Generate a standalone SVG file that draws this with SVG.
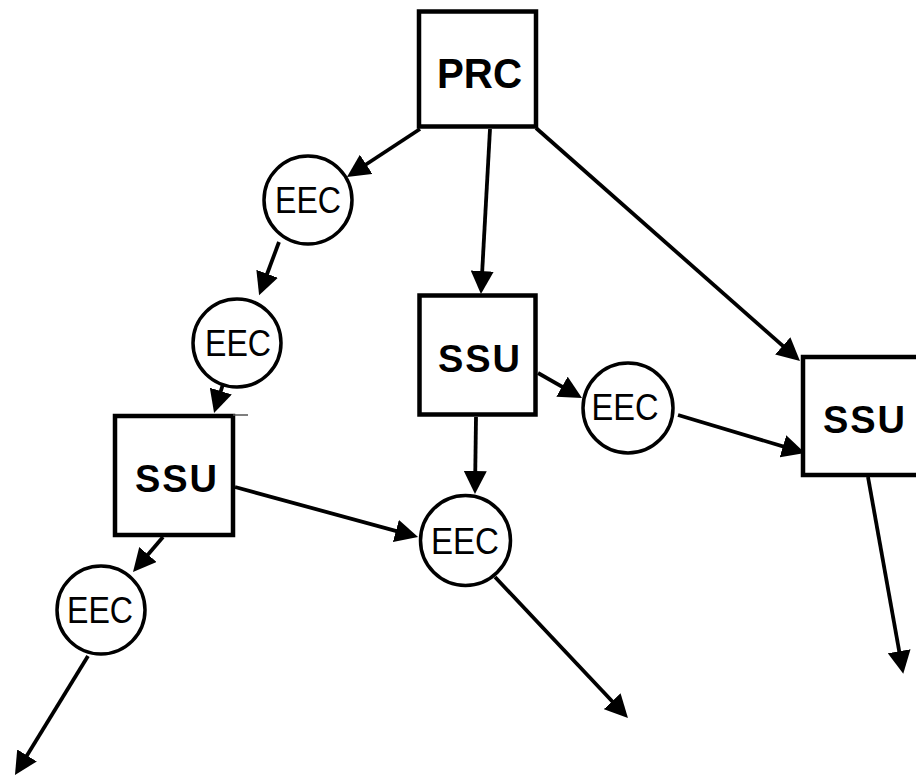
<svg xmlns="http://www.w3.org/2000/svg" width="916" height="776" viewBox="0 0 916 776">
  <style>
    .box { fill: #ffffff; stroke: #000000; stroke-width: 4.5; }
    .ring { fill: #ffffff; stroke: #000000; stroke-width: 3.5; }
    .lbl-b { font-family: "Liberation Sans", Arial, sans-serif; font-weight: bold; font-size: 38px; letter-spacing: 2px; fill: #000000; text-anchor: middle; }
    .lbl { font-family: "Liberation Sans", Arial, sans-serif; font-size: 36px; fill: #000000; text-anchor: middle; }
    .edge { fill: none; stroke: #000000; stroke-width: 3.8; stroke-linecap: butt; marker-end: url(#head); }
  </style>
  <defs>
    <marker id="head" markerUnits="userSpaceOnUse" viewBox="0 0 23 23" refX="13" refY="11.5" markerWidth="23" markerHeight="23" orient="auto">
      <path d="M0,0 L23,11.5 L0,23 z" fill="#000000"/>
    </marker>
  </defs>
  <rect width="916" height="776" fill="#ffffff"/>

  <g id="connectors">
    <line class="edge" x1="420" y1="129" x2="355.3" y2="171.5"/>
    <line class="edge" x1="490" y1="129" x2="481.5" y2="284"/>
    <line class="edge" x1="536" y1="128" x2="792.5" y2="354.4"/>
    <line class="edge" x1="279" y1="242" x2="262.6" y2="286"/>
    <line class="edge" x1="223" y1="384" x2="217" y2="403.5"/>
    <line class="edge" x1="163" y1="537" x2="139.5" y2="564.4"/>
    <line class="edge" x1="235" y1="487" x2="408.4" y2="534.4"/>
    <line class="edge" x1="476" y1="417" x2="475.1" y2="484"/>
    <line class="edge" x1="538" y1="373" x2="573.3" y2="393.1"/>
    <line class="edge" x1="678" y1="415" x2="795.4" y2="450.1"/>
    <line class="edge" x1="868" y1="477" x2="901.5" y2="664"/>
    <line class="edge" x1="88" y1="656" x2="20.2" y2="766.5"/>
    <line class="edge" x1="495" y1="577" x2="621.1" y2="710.7"/>
  </g>

  <g id="prc">
    <rect class="box" x="419" y="11.5" width="117" height="115"/>
    <text class="lbl-b" x="479.5" y="88" style="font-size:42px;letter-spacing:0" textLength="85" lengthAdjust="spacingAndGlyphs">PRC</text>
  </g>

  <g id="ssu-left">
    <rect class="box" x="115" y="416" width="118" height="119"/>
    <line x1="233" y1="415" x2="248" y2="415" stroke="#555555" stroke-width="1.5"/>
    <text class="lbl-b" x="177" y="492">SSU</text>
  </g>

  <g id="ssu-middle">
    <rect class="box" x="419.5" y="295.5" width="116" height="119"/>
    <text class="lbl-b" x="480" y="372">SSU</text>
  </g>

  <g id="ssu-right">
    <rect class="box" x="803" y="357" width="120" height="118"/>
    <text class="lbl-b" x="865" y="433">SSU</text>
  </g>

  <g id="eec-1">
    <circle class="ring" cx="308" cy="200" r="44"/>
    <text class="lbl" x="308" y="213" textLength="66" lengthAdjust="spacingAndGlyphs">EEC</text>
  </g>

  <g id="eec-2">
    <circle class="ring" cx="237" cy="343" r="44"/>
    <text class="lbl" x="238" y="356" textLength="66" lengthAdjust="spacingAndGlyphs">EEC</text>
  </g>

  <g id="eec-3">
    <circle class="ring" cx="101" cy="610" r="44"/>
    <text class="lbl" x="100" y="623" textLength="66" lengthAdjust="spacingAndGlyphs">EEC</text>
  </g>

  <g id="eec-4">
    <circle class="ring" cx="465.5" cy="540.5" r="45"/>
    <text class="lbl" x="465" y="554" textLength="68" lengthAdjust="spacingAndGlyphs">EEC</text>
  </g>

  <g id="eec-5">
    <circle class="ring" cx="628" cy="408" r="45"/>
    <text class="lbl" x="625" y="420" textLength="67" lengthAdjust="spacingAndGlyphs">EEC</text>
  </g>
</svg>
